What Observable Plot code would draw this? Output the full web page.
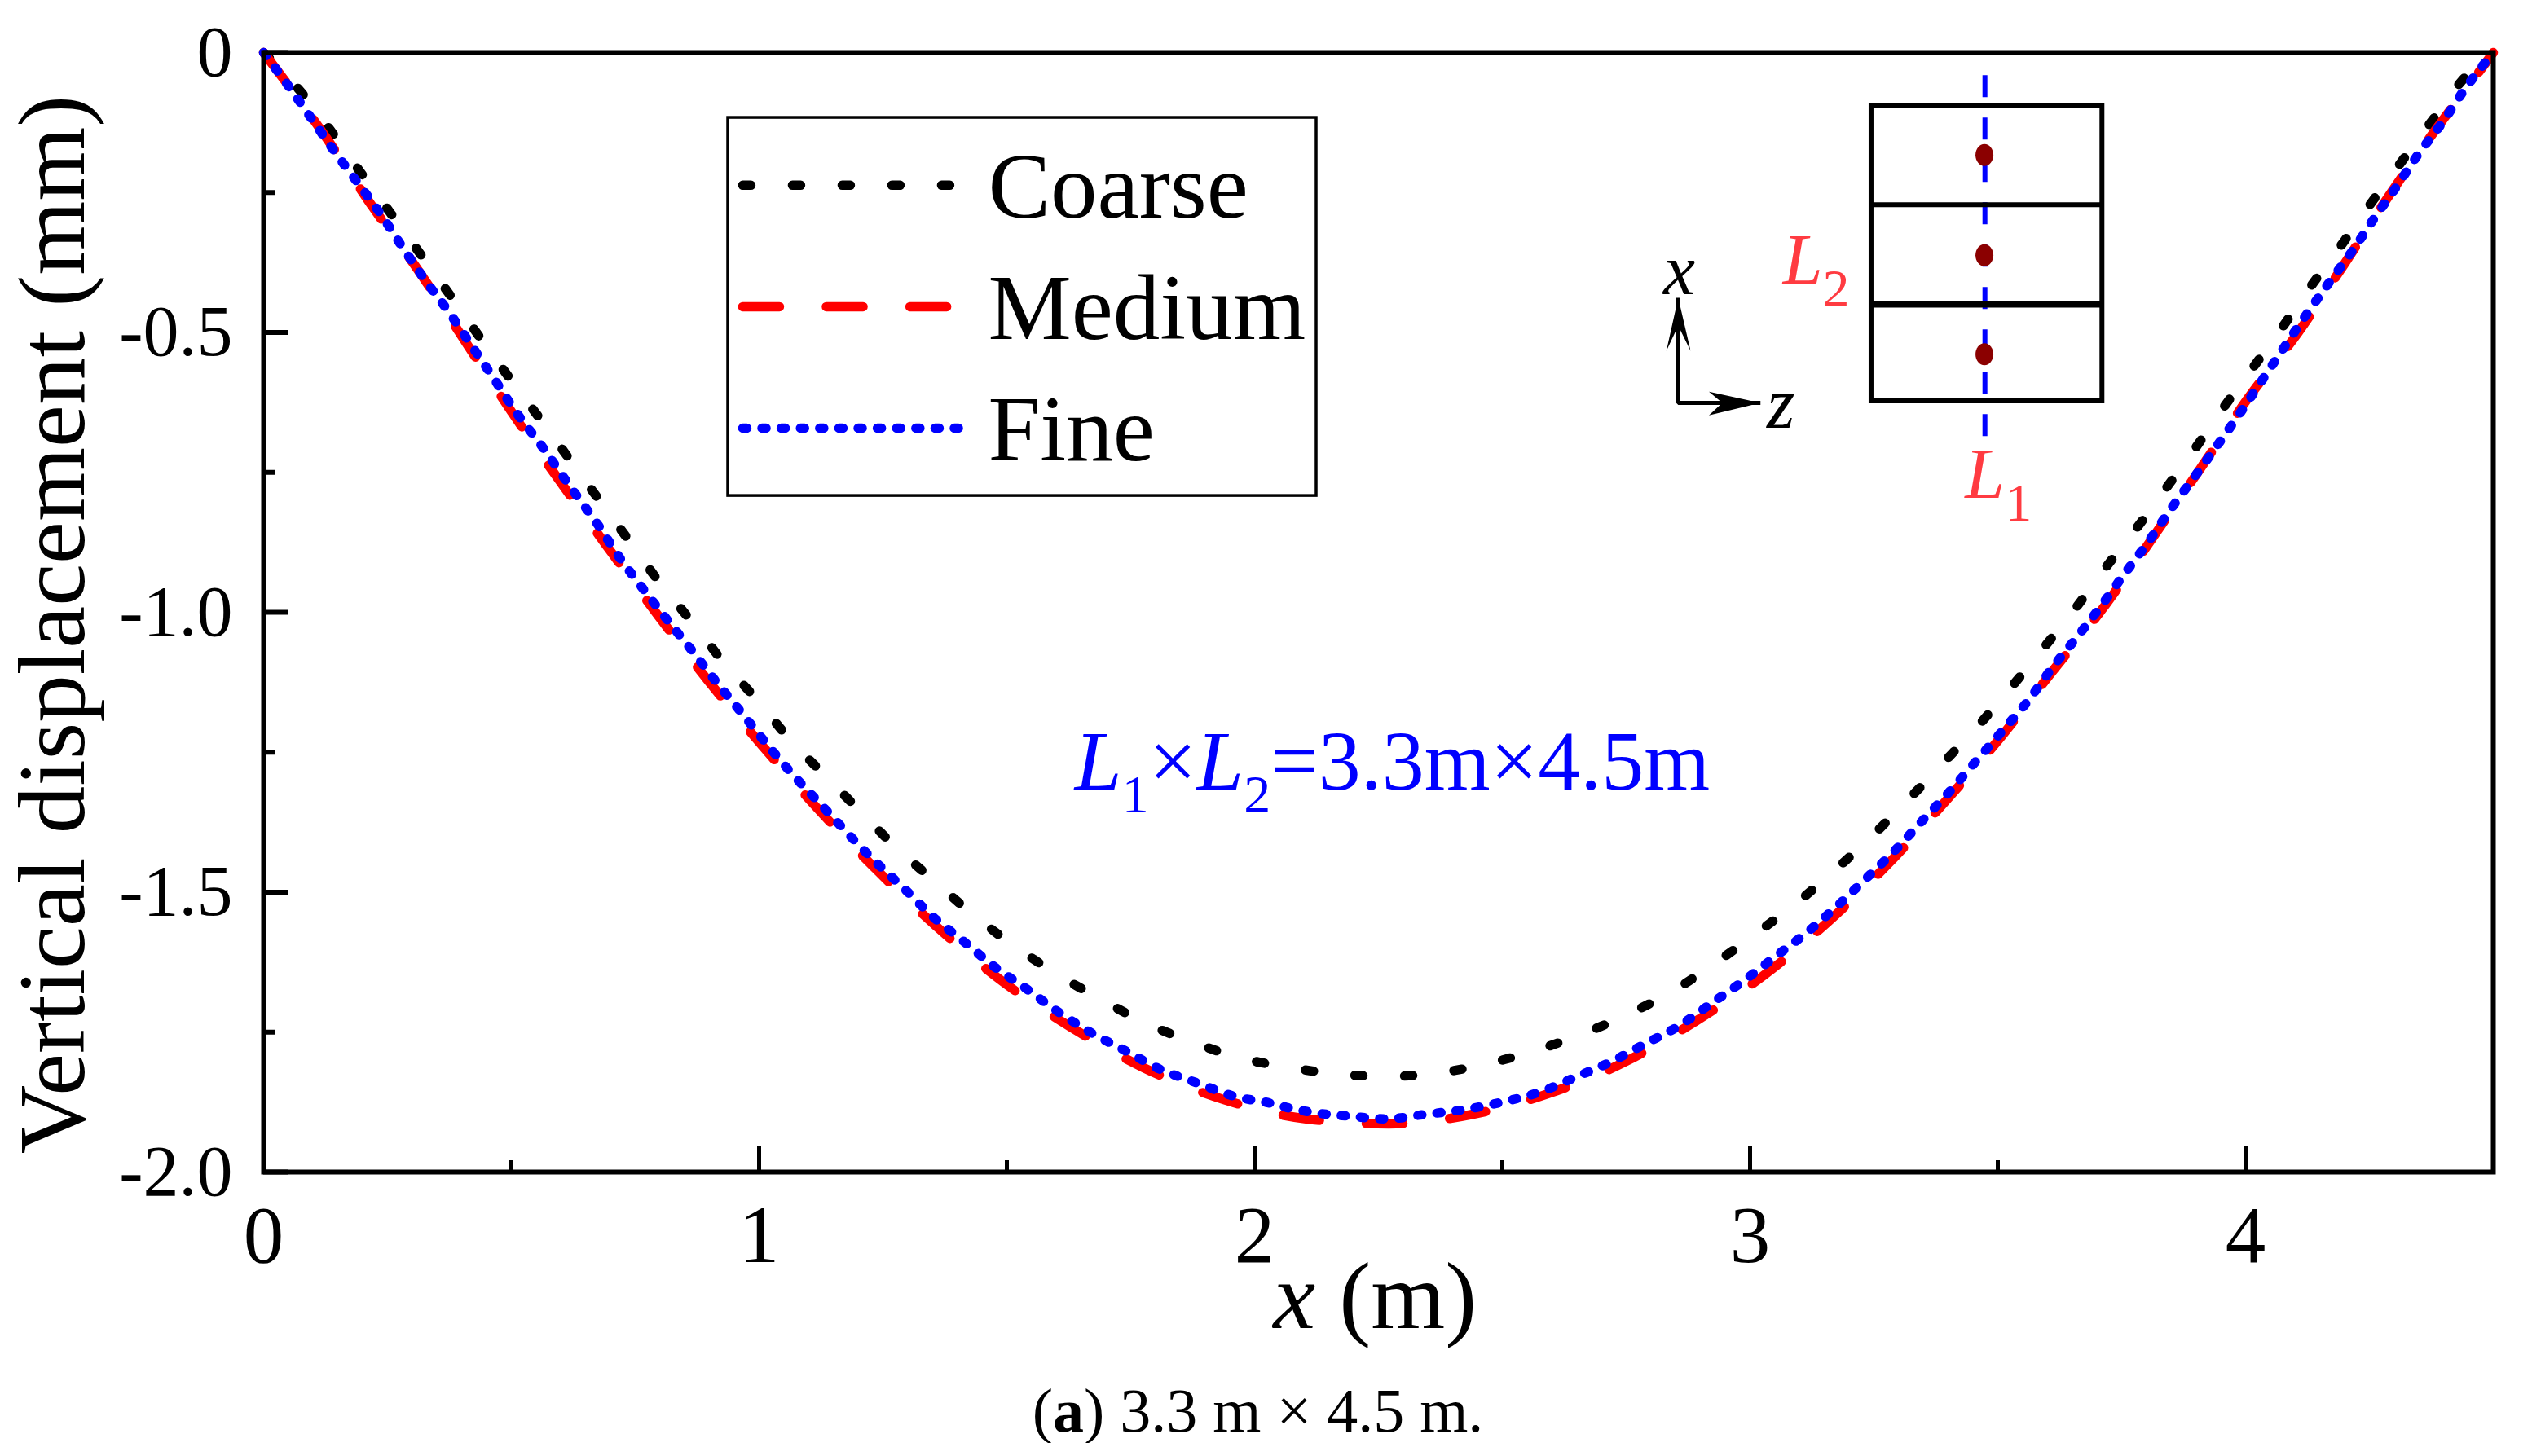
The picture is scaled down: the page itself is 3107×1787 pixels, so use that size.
<!DOCTYPE html>
<html><head><meta charset="utf-8">
<script src="https://cdn.jsdelivr.net/npm/d3@7"></script>
<script src="https://cdn.jsdelivr.net/npm/@observablehq/plot@0.6"></script>
<style>
html,body{margin:0;padding:0;background:#fff;overflow:hidden}
svg{display:block}
#cap{font:76px/80px "Liberation Serif",serif;color:#000;width:3087px;text-align:center;margin-top:11px}
</style></head><body>
<div id="chart"></div>
<div id="cap">(<b>a</b>) 3.3 m × 4.5 m.</div>
<script>
// ---- series: x (m), vertical displacement (mm)
const coarseX=[0,.077,.140,.198,.258,.318,.380,.439,.500,.560,.680,.740,.800,.867,.927,.996,1.060,1.131,1.198,1.275,1.352,1.430,1.510,1.600,1.689,1.778,1.872,1.971,2.069,2.169,2.271,2.370,2.472,2.570,2.662,2.754,2.849,2.929,3.015,3.097,3.172,3.248,3.320,3.390,3.462,3.525,3.592,3.655,3.716,3.779,3.839,3.900,3.959,4.019,4.078,4.138,4.199,4.259,4.319,4.377,4.443,4.5];
const coarseY=[0,-.072,-.145,-.217,-.289,-.362,-.438,-.512,-.586,-.657,-.803,-.875,-.948,-1.020,-1.088,-1.157,-1.225,-1.290,-1.350,-1.419,-1.479,-1.539,-1.593,-1.646,-1.691,-1.733,-1.767,-1.796,-1.813,-1.825,-1.829,-1.823,-1.806,-1.782,-1.753,-1.718,-1.674,-1.627,-1.572,-1.517,-1.460,-1.398,-1.334,-1.269,-1.201,-1.136,-1.064,-.995,-.922,-.851,-.779,-.705,-.630,-.558,-.486,-.410,-.337,-.262,-.190,-.121,-.044,0];
const mediumX=[0,.124,.214,.316,.412,.502,.697,.798,.897,1.007,1.108,1.237,1.355,1.486,1.629,1.777,1.939,2.104,2.271,2.439,2.596,2.748,2.893,3.027,3.156,3.276,3.394,3.507,3.608,3.718,3.814,3.912,4.003,4.107,4.200,4.293,4.386,4.485,4.5];
const mediumY=[0,-.149,-.268,-.394,-.523,-.644,-.887,-1.008,-1.122,-1.239,-1.341,-1.460,-1.559,-1.656,-1.741,-1.814,-1.871,-1.905,-1.914,-1.897,-1.859,-1.803,-1.729,-1.649,-1.554,-1.452,-1.338,-1.222,-1.108,-.986,-.865,-.739,-.620,-.499,-.377,-.251,-.135,-.018,0];
const fineX=[0,.052,.099,.145,.191,.239,.282,.328,.375,.420,.465,.510,.558,.628,.675,.719,.765,.815,.865,.915,.967,1.015,1.067,1.121,1.231,1.292,1.351,1.413,1.476,1.537,1.604,1.672,1.741,1.811,1.885,1.960,2.032,2.072,2.148,2.189,2.266,2.344,2.419,2.500,2.576,2.649,2.719,2.788,2.858,2.923,2.989,3.054,3.116,3.178,3.236,3.295,3.349,3.404,3.457,3.510,3.562,3.609,3.660,3.709,3.755,3.803,3.848,3.896,3.942,3.989,4.033,4.076,4.122,4.167,4.215,4.259,4.305,4.349,4.398,4.442,4.5];
const fineY=[0,-.062,-.121,-.179,-.234,-.292,-.350,-.409,-.465,-.524,-.583,-.643,-.699,-.787,-.844,-.903,-.957,-1.014,-1.069,-1.126,-1.182,-1.235,-1.289,-1.340,-1.4425,-1.493,-1.544,-1.588,-1.634,-1.671,-1.714,-1.752,-1.784,-1.817,-1.841,-1.865,-1.877,-1.886,-1.897,-1.900,-1.905,-1.897,-1.889,-1.875,-1.857,-1.830,-1.803,-1.771,-1.738,-1.698,-1.657,-1.613,-1.571,-1.523,-1.474,-1.423,-1.371,-1.319,-1.265,-1.211,-1.157,-1.100,-1.044,-.988,-.932,-.875,-.817,-.759,-.703,-.644,-.586,-.529,-.469,-.413,-.355,-.297,-.239,-.181,-.124,-.066,0];

// ---- axes
const xMajor=[0,1,2,3,4], xMinor=[.5,1.5,2.5,3.5];
const yMajor=[0,-.5,-1,-1.5,-2], yMinor=[-.25,-.75,-1.25,-1.75];

// ---- legend
const legendNames=["Coarse","Medium","Fine"];
const legendRows=[-.237,-.454,-.671];
const legendBaselines=[-.295,-.512,-.729];
const legendSpan=[.967,1.403], legendTextX=1.462;
const legendBox={x1:.9375,x2:2.125,y1:-.792,y2:-.1165};

// ---- inset sketch (in chart units)
const insetBox={x1:3.245,x2:3.711,y1:-.623,y2:-.096};
const insetDividers=[-.272,-.450];
const insetAxisX=3.474, insetAxisSpan=[-.041,-.688];
const insetDotX=3.473, insetDotY=[-.183,-.362,-.539];
const triadX=[2.855,2.855,3.021], triadY=[-.438,-.626,-.626];
const headUpX=[2.855,2.831,2.855,2.880], headUpY=[-.438,-.533,-.488,-.533];
const headRightX=[3.021,2.917,2.944,2.917], headRightY=[-.626,-.606,-.626,-.648];

const BLACK="#000",RED="#ff0000",BLUE="#0000ff",PINK="#ff3b41",DARK="#8b0000";
const pairs=(xs,ys)=>xs.map((x,i)=>({x,y:ys[i]}));
const oval={draw(c){const a=11,b=13.5,k=.5523;c.moveTo(a,0);c.bezierCurveTo(a,k*b,k*a,b,0,b);c.bezierCurveTo(-k*a,b,-a,k*b,-a,0);c.bezierCurveTo(-a,-k*b,-k*a,-b,0,-b);c.bezierCurveTo(k*a,-b,a,-k*b,a,0);c.closePath();}};
const label=(text,x,y,fontSize,fill,extra={})=>Plot.text([text],{x:()=>x,y:()=>y,text:d=>d,fontSize,fill,lineAnchor:"bottom",textAnchor:"start",...extra});

const DASH={coarse:"10 51",medium:"45 57.6",fine:"5 18.6"};
const W=11.5;

const plot=Plot.plot({
  width:3107,height:1680,
  marginLeft:323,marginRight:48,marginTop:64,marginBottom:242,
  x:{domain:[0,4.5],label:null},
  y:{domain:[-2,0],label:null},
  style:{fontFamily:'"Liberation Serif",serif',background:"#fff",color:"#000",overflow:"visible"},
  marks:[
    // curves
    Plot.line(pairs(coarseX,coarseY),{x:"x",y:"y",curve:"monotone-x",stroke:BLACK,strokeWidth:W,strokeDasharray:DASH.coarse,strokeLinecap:"round"}),
    Plot.line(pairs(mediumX,mediumY),{x:"x",y:"y",curve:"monotone-x",stroke:RED,strokeWidth:W,strokeDasharray:DASH.medium,strokeLinecap:"round"}),
    Plot.line(pairs(fineX,fineY),{x:"x",y:"y",curve:"monotone-x",stroke:BLUE,strokeWidth:W,strokeDasharray:DASH.fine,strokeLinecap:"round"}),
    // axis ticks and labels
    Plot.axisX(xMajor,{tickSize:-31,text:null,strokeWidth:5,label:null}),
    Plot.axisX(xMinor,{tickSize:-14,text:null,strokeWidth:5,label:null}),
    Plot.axisX(xMajor,{tickSize:0,tickPadding:40,fontSize:99,tickFormat:d=>String(d),label:null}),
    Plot.axisY(yMajor,{tickSize:-31,text:null,strokeWidth:6,label:null}),
    Plot.axisY(yMinor,{tickSize:-14,text:null,strokeWidth:6,label:null}),
    Plot.axisY(yMajor,{tickSize:0,tickPadding:38,fontSize:88,tickFormat:d=>d===0?"0":d.toFixed(1),label:null}),
    Plot.frame({stroke:BLACK,strokeWidth:6}),
    // axis titles
    label("<i>x</i> (m)",2.243,-2.279,117,BLACK,{textAnchor:"middle"}),
    label("Vertical displacement (mm)",-.363,-1.022,117,BLACK,{textAnchor:"middle",rotate:-90}),
    // legend
    Plot.rect([legendBox],{x1:"x1",x2:"x2",y1:"y1",y2:"y2",fill:"#fff",stroke:BLACK,strokeWidth:3.5}),
    Plot.line(legendSpan,{x:d=>d,y:()=>legendRows[0],stroke:BLACK,strokeWidth:W,strokeDasharray:DASH.coarse,strokeLinecap:"round"}),
    Plot.line(legendSpan,{x:d=>d,y:()=>legendRows[1],stroke:RED,strokeWidth:W,strokeDasharray:DASH.medium,strokeLinecap:"round"}),
    Plot.line(legendSpan,{x:d=>d,y:()=>legendRows[2],stroke:BLUE,strokeWidth:W,strokeDasharray:DASH.fine,strokeLinecap:"round"}),
    Plot.text(legendNames,{x:()=>legendTextX,y:(d,i)=>legendBaselines[i],text:d=>d,fontSize:115,fill:BLACK,textAnchor:"start",lineAnchor:"bottom"}),
    // annotation
    label("<i>L</i><s>1</s>×<i>L</i><s>2</s>=3.3m×4.5m",1.637,-1.317,104,BLUE),
    // inset sketch
    Plot.ruleX([insetAxisX],{y1:()=>insetAxisSpan[0],y2:()=>insetAxisSpan[1],stroke:BLUE,strokeWidth:6,strokeDasharray:"27 25"}),
    Plot.rect([insetBox],{x1:"x1",x2:"x2",y1:"y1",y2:"y2",fill:"none",stroke:BLACK,strokeWidth:6}),
    Plot.ruleY(insetDividers.slice(0,1),{x1:()=>insetBox.x1,x2:()=>insetBox.x2,stroke:BLACK,strokeWidth:6}),
    Plot.ruleY(insetDividers.slice(1),{x1:()=>insetBox.x1,x2:()=>insetBox.x2,stroke:BLACK,strokeWidth:7.5}),
    Plot.dot(insetDotY,{x:()=>insetDotX,y:d=>d,symbol:oval,fill:DARK,stroke:"none"}),
    Plot.line(pairs(triadX,triadY),{x:"x",y:"y",stroke:BLACK,strokeWidth:5,strokeLinejoin:"miter",strokeLinecap:"butt"}),
    Plot.line(pairs(headUpX,headUpY),{x:"x",y:"y",fill:BLACK,stroke:"none"}),
    Plot.line(pairs(headRightX,headRightY),{x:"x",y:"y",fill:BLACK,stroke:"none"}),
    label("<i>x</i>",2.857,-.431,88,BLACK,{textAnchor:"middle"}),
    label("<i>z</i>",3.062,-.671,88,BLACK,{textAnchor:"middle"}),
    label("<i>L</i><s>2</s>",3.066,-.412,88,PINK),
    label("<i>L</i><s>1</s>",3.434,-.795,88,PINK)
  ]
});

// turn the light markup of rich labels into real tspans
plot.querySelectorAll("text").forEach(t=>{
  const s=t.textContent; if(!s.includes("<")) return;
  const fs=parseFloat(t.getAttribute("font-size"))||parseFloat(getComputedStyle(t).fontSize)||100;
  const shift=.28*fs, subSize=fs*(fs<95?.62:.66); let pending=0;
  while(t.firstChild) t.removeChild(t.firstChild);
  s.split(/(<i>.*?<\/i>|<s>.*?<\/s>)/).filter(Boolean).forEach(part=>{
    const sp=document.createElementNS("http://www.w3.org/2000/svg","tspan");
    if(part.startsWith("<i>")){sp.textContent=part.slice(3,-4);sp.setAttribute("font-style","italic");}
    else if(part.startsWith("<s>")){sp.textContent=part.slice(3,-4);sp.setAttribute("font-size",subSize);sp.setAttribute("dy",shift);pending=-shift;t.appendChild(sp);return;}
    else sp.textContent=part;
    if(pending){sp.setAttribute("dy",pending);pending=0;}
    t.appendChild(sp);
  });
});
document.getElementById("chart").appendChild(plot);
</script>
</body></html>
